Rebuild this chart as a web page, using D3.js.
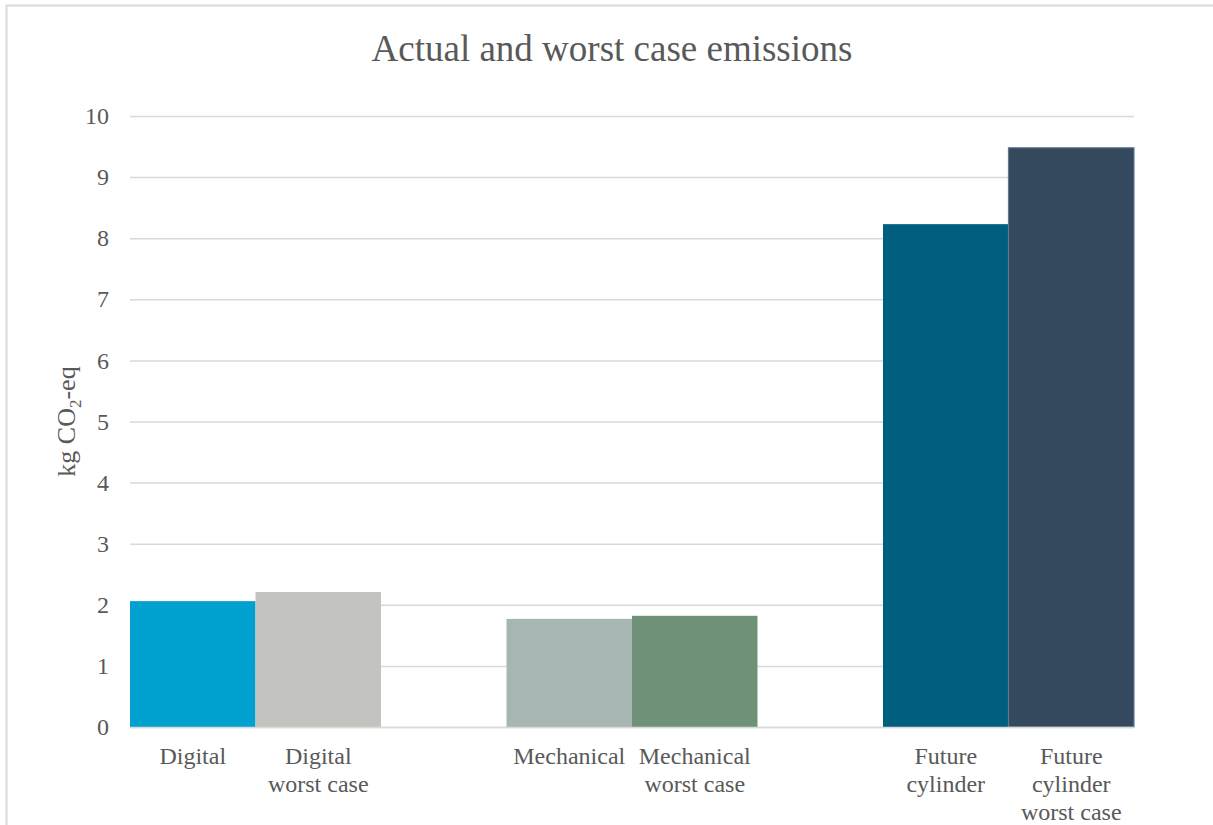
<!DOCTYPE html>
<html>
<head>
<meta charset="utf-8">
<script src="https://cdn.jsdelivr.net/npm/d3@7"></script>
<style>
  html, body { margin: 0; padding: 0; background: #ffffff; }
  svg { display: block; }
  text { font-family: "Liberation Serif", "Times New Roman", serif; fill: #595959; }
</style>
</head>
<body>
<svg id="chart" width="1213" height="825"></svg>
<script>
// Category slots along the x axis; blank entries are spacer slots between groups
const categories = ["Digital", "Digital\nworst case", "", "Mechanical", "Mechanical\nworst case", " ", "Future\ncylinder", "Future\ncylinder\nworst case"];
// Emissions in kg CO2-eq per category (null for spacer slots)
const values = [2.06, 2.21, null, 1.77, 1.82, null, 8.23, 9.48];
const barColors = ["#00a0cf", "#c3c4bf", null, "#a7b6b3", "#6e9178", null, "#005f7e", "#34495d"];
const barStrokes = [null, null, null, null, null, null, null, "#5e7b94"];
const yTicks = [0, 1, 2, 3, 4, 5, 6, 7, 8, 9, 10];

const svg = d3.select("#chart");
const W = 1213, H = 825;
const margin = { left: 130, right: W - 1134, top: 116, bottom: H - 727 };
const serif = "'Liberation Serif', 'Times New Roman', serif";

// Outer chart frame
svg.append("rect")
  .attr("x", 6.5).attr("y", 5.5)
  .attr("width", W + 10).attr("height", H + 10)
  .attr("fill", "none").attr("stroke", "#d9d9d9").attr("stroke-width", 2);

const x = d3.scaleBand()
  .domain(d3.range(categories.length))
  .range([margin.left, W - margin.right])
  .paddingInner(0).paddingOuter(0);

const y = d3.scaleLinear()
  .domain([0, 10])
  .range([H - margin.bottom, margin.top]);

// Horizontal gridlines with tick labels
const yAxis = d3.axisLeft(y)
  .tickValues(yTicks)
  .tickSize(-(W - margin.left - margin.right))
  .tickPadding(21);

const gy = svg.append("g")
  .attr("transform", `translate(${margin.left},0)`)
  .call(yAxis)
  .attr("font-family", serif);
gy.select(".domain").remove();
gy.selectAll(".tick line").attr("stroke", "#d9d9d9").attr("stroke-width", 1.5);
gy.selectAll(".tick text")
  .attr("font-size", 24)
  .attr("fill", "#595959")
  .attr("font-family", serif);

// Bars
svg.append("g").selectAll("rect")
  .data(values.map((v, i) => ({ v, i })).filter(d => d.v !== null))
  .join("rect")
  .attr("x", d => x(d.i))
  .attr("width", x.bandwidth())
  .attr("y", d => y(d.v))
  .attr("height", d => y(0) - y(d.v))
  .attr("fill", d => barColors[d.i])
  .attr("stroke", d => barStrokes[d.i] || "none")
  .attr("stroke-width", 1.2);

// Category axis baseline
svg.append("line")
  .attr("x1", margin.left).attr("x2", W - margin.right)
  .attr("y1", y(0) + 0.5).attr("y2", y(0) + 0.5)
  .attr("stroke", "#d9d9d9").attr("stroke-width", 1.5);

// Category labels, wrapped onto several lines
const labelG = svg.append("g");
categories.forEach((c, i) => {
  if (!c.trim()) return;
  const t = labelG.append("text")
    .attr("x", x(i) + x.bandwidth() / 2)
    .attr("y", 764)
    .attr("text-anchor", "middle")
    .attr("font-size", 24);
  c.split("\n").forEach((line, k) => {
    t.append("tspan")
      .attr("x", x(i) + x.bandwidth() / 2)
      .attr("dy", k === 0 ? 0 : 28)
      .text(line);
  });
});

// Y axis title with subscript
const yt = svg.append("text")
  .attr("transform", `translate(75,${(y(0) + y(10)) / 2}) rotate(-90)`)
  .attr("text-anchor", "middle")
  .attr("font-size", 26);
yt.append("tspan").text("kg CO");
yt.append("tspan").attr("font-size", 17).attr("dy", 6).text("2");
yt.append("tspan").attr("dy", -6).text("-eq");

// Chart title
svg.append("text")
  .attr("x", 612).attr("y", 61)
  .attr("text-anchor", "middle")
  .attr("font-size", 37)
  .text("Actual and worst case emissions");
</script>
</body>
</html>
